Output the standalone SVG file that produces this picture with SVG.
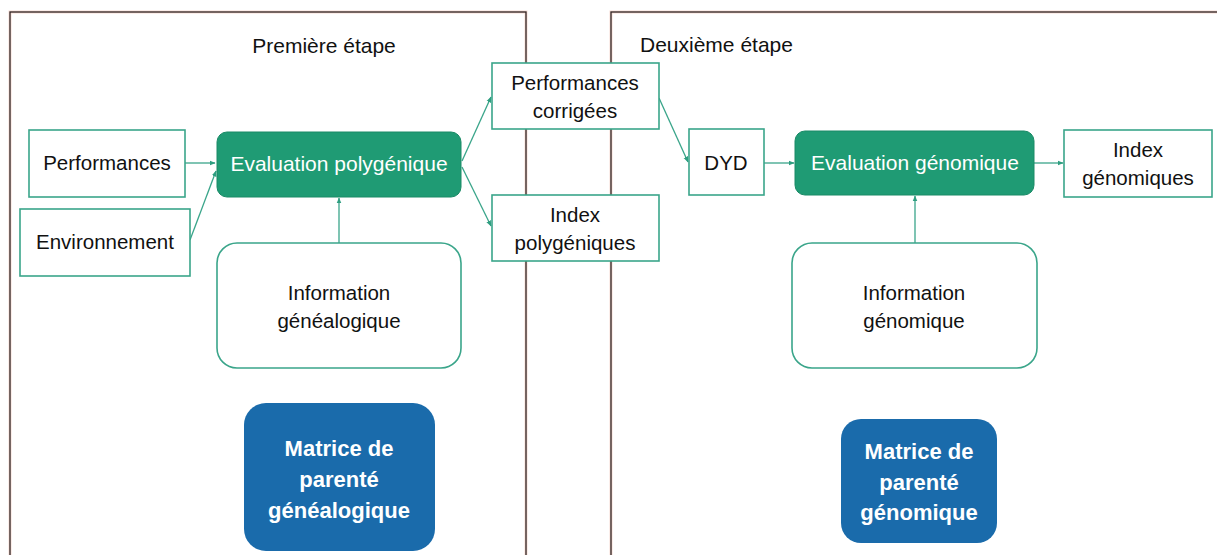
<svg xmlns="http://www.w3.org/2000/svg" width="1217" height="555" viewBox="0 0 1217 555">
<style>
  .panel { fill: none; stroke: #2e2424; stroke-width: 1.3; }
  .halo { fill: none; stroke: #f8dcd3; stroke-width: 3; }
  .box { fill: #ffffff; stroke: #3aa58a; stroke-width: 1.6; }
  .eval { fill: #1f9b74; stroke: #1a8a66; stroke-width: 1; }
  .matrix { fill: #1a6bab; }
  .t { font-family: "Liberation Sans", Arial, sans-serif; font-size: 20.5px; fill: #111; text-anchor: middle; }
  .tw { font-family: "Liberation Sans", Arial, sans-serif; font-size: 21px; fill: #ffffff; text-anchor: middle; }
  .tb { font-family: "Liberation Sans", Arial, sans-serif; font-size: 22px; font-weight: bold; fill: #ffffff; text-anchor: middle; }
  .title { font-family: "Liberation Sans", Arial, sans-serif; font-size: 21px; fill: #111; }
  .conn { fill: none; stroke: #3aa58a; stroke-width: 1.3; marker-end: url(#arr); }
</style>
<defs>
  <marker id="arr" viewBox="0 0 10 10" refX="9" refY="5" markerWidth="6" markerHeight="6" orient="auto" markerUnits="userSpaceOnUse">
    <path d="M0,1 L10,5 L0,9 Z" fill="#2f9e80"/>
  </marker>
</defs>
<rect width="1217" height="555" fill="#ffffff"/>

<g id="panel-left">
  <rect class="halo" x="10" y="12" width="516" height="560"/>
  <rect class="panel" x="10" y="12" width="516" height="560"/>
  <text class="title" x="324" y="53" text-anchor="middle">Première étape</text>
</g>
<g id="panel-right">
  <rect class="halo" x="611" y="12" width="620" height="560"/>
  <rect class="panel" x="611" y="12" width="620" height="560"/>
  <text class="title" x="640" y="52">Deuxième étape</text>
</g>

<g id="connectors">
  <line class="conn" x1="185" y1="163" x2="215" y2="163"/>
  <line class="conn" x1="190" y1="240" x2="216" y2="171"/>
  <line class="conn" x1="339" y1="243" x2="339" y2="198"/>
  <line class="conn" x1="462" y1="161" x2="491" y2="97"/>
  <line class="conn" x1="462" y1="167" x2="491" y2="226"/>
  <line class="conn" x1="659" y1="98" x2="688" y2="162"/>
  <line class="conn" x1="764" y1="163" x2="794" y2="163"/>
  <line class="conn" x1="1034" y1="163" x2="1063" y2="163"/>
  <line class="conn" x1="915" y1="243" x2="915" y2="196"/>
</g>

<g id="performances">
  <rect class="box" x="29" y="130" width="156" height="67"/>
  <text class="t" x="107" y="170">Performances</text>
</g>
<g id="environnement">
  <rect class="box" x="20" y="209" width="170" height="67"/>
  <text class="t" x="105" y="249">Environnement</text>
</g>
<g id="eval-polygenique">
  <rect class="eval" x="217" y="132" width="244" height="65" rx="10"/>
  <text class="tw" x="339" y="171">Evaluation polygénique</text>
</g>
<g id="info-genealogique">
  <rect class="box" x="217" y="243" width="244" height="125" rx="20"/>
  <text class="t" x="339" y="300">Information</text>
  <text class="t" x="339" y="328">généalogique</text>
</g>
<g id="matrice-genealogique">
  <rect class="matrix" x="244" y="403" width="191" height="148" rx="22"/>
  <text class="tb" x="339" y="456">Matrice de</text>
  <text class="tb" x="339" y="487">parenté</text>
  <text class="tb" x="339" y="518">généalogique</text>
</g>
<g id="perf-corrigees">
  <rect class="box" x="492" y="63" width="167" height="66"/>
  <text class="t" x="575" y="90">Performances</text>
  <text class="t" x="575" y="118">corrigées</text>
</g>
<g id="index-polygeniques">
  <rect class="box" x="492" y="195" width="167" height="66"/>
  <text class="t" x="575" y="222">Index</text>
  <text class="t" x="575" y="250">polygéniques</text>
</g>
<g id="dyd">
  <rect class="box" x="689" y="129" width="75" height="66"/>
  <text class="t" x="726" y="170">DYD</text>
</g>
<g id="eval-genomique">
  <rect class="eval" x="795" y="131" width="239" height="64" rx="10"/>
  <text class="tw" x="915" y="170">Evaluation génomique</text>
</g>
<g id="index-genomiques">
  <rect class="box" x="1064" y="130" width="148" height="67"/>
  <text class="t" x="1138" y="157">Index</text>
  <text class="t" x="1138" y="185">génomiques</text>
</g>
<g id="info-genomique">
  <rect class="box" x="792" y="243" width="245" height="125" rx="20"/>
  <text class="t" x="914" y="300">Information</text>
  <text class="t" x="914" y="328">génomique</text>
</g>
<g id="matrice-genomique">
  <rect class="matrix" x="841" y="419" width="156" height="124" rx="20"/>
  <text class="tb" x="919" y="459">Matrice de</text>
  <text class="tb" x="919" y="490">parenté</text>
  <text class="tb" x="919" y="520">génomique</text>
</g>
</svg>
